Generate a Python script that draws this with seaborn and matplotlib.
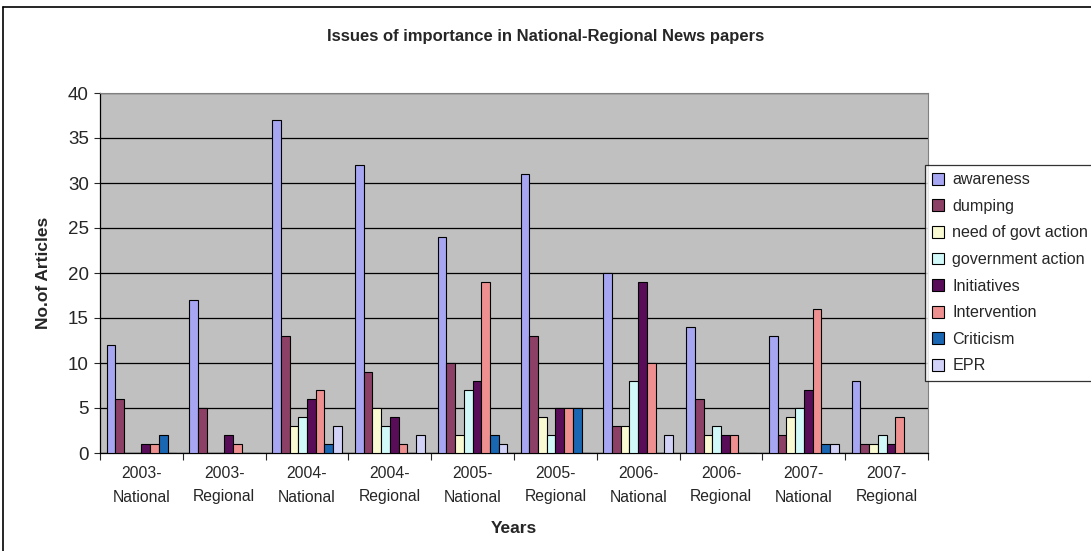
import numpy as np
import pandas as pd
import matplotlib
matplotlib.use("Agg")
import matplotlib.pyplot as plt
import seaborn as sns
from matplotlib.lines import Line2D

categories = ["2003-\nNational", "2003-\nRegional", "2004-\nNational", "2004-\nRegional",
              "2005-\nNational", "2005-\nRegional", "2006-\nNational", "2006-\nRegional",
              "2007-\nNational", "2007-\nRegional"]
series_names = ["awareness", "dumping", "need of govt action", "government action",
                "Initiatives", "Intervention", "Criticism", "EPR"]

awareness = [12, 17, 37, 32, 24, 31, 20, 14, 13, 8]
dumping = [6, 5, 13, 9, 10, 13, 3, 6, 2, 1]
need_of_govt_action = [0, 0, 3, 5, 2, 4, 3, 2, 4, 1]
government_action = [0, 0, 4, 3, 7, 2, 8, 3, 5, 2]
initiatives = [1, 2, 6, 4, 8, 5, 19, 2, 7, 1]
intervention = [1, 1, 7, 1, 19, 5, 10, 2, 16, 4]
criticism = [2, 0, 1, 0, 2, 5, 0, 0, 1, 0]
epr = [0, 0, 3, 2, 1, 0, 2, 0, 1, 0]

series_values = [awareness, dumping, need_of_govt_action, government_action,
                 initiatives, intervention, criticism, epr]
colors = ["#9999FF", "#993366", "#FFFFCC", "#CCFFFF", "#660066", "#FF8080", "#0066CC", "#CCCCFF"]

rows = []
for name, vals in zip(series_names, series_values):
    for cat, v in zip(categories, vals):
        rows.append({"Years": cat, "Issue": name, "Articles": v})
df = pd.DataFrame(rows)

sns.set_theme(style="white")
plt.rcParams["font.family"] = ["Liberation Sans", "DejaVu Sans"]

W, H = 1091, 551
fig = plt.figure(figsize=(W / 100, H / 100), dpi=100)
ax = fig.add_axes([100 / W, 1 - 453 / H, 828 / W, 360 / H])
ax.set_facecolor("#C0C0C0")

sns.barplot(data=df, x="Years", y="Articles", hue="Issue", order=categories,
            hue_order=series_names, palette=colors, width=8 / 9.5,
            edgecolor="black", linewidth=0.8, errorbar=None, ax=ax, zorder=3)

ax.set_ylim(0, 40)
ax.set_xlim(-0.5, len(categories) - 0.5)
ax.set_yticks(range(0, 41, 5))
ax.yaxis.grid(True, color="black", linewidth=0.9, zorder=1)
ax.set_axisbelow(True)
ax.tick_params(axis="y", labelsize=13.5, length=4, width=0.8, direction="out", left=True, pad=4)
ax.tick_params(axis="x", which="major", length=0, labelsize=11.3, pad=9)
ax.set_xticks(np.arange(-0.5, len(categories), 1.0), minor=True)
ax.tick_params(axis="x", which="minor", length=5, width=0.8, direction="out", bottom=True)
for lbl in ax.get_xticklabels():
    lbl.set_linespacing(1.75)

for side in ["top", "right"]:
    ax.spines[side].set_color("#808080")
    ax.spines[side].set_linewidth(0.8)
for side in ["left", "bottom"]:
    ax.spines[side].set_color("black")
    ax.spines[side].set_linewidth(0.9)

ax.set_xlabel("Years", fontsize=12.5, fontweight="bold", labelpad=12)
ax.set_ylabel("No.of Articles", fontsize=12.5, fontweight="bold", labelpad=12)
fig.text(0.5, 1 - 37 / H, "Issues of importance in National-Regional News papers",
         ha="center", va="center", fontsize=12, fontweight="bold")

leg = ax.legend(loc="upper left", bbox_to_anchor=(925 / W, 1 - 165 / H),
                bbox_transform=fig.transFigure, frameon=True, fontsize=11.6,
                handlelength=0.75, handleheight=0.75, handletextpad=0.5,
                labelspacing=0.72, borderpad=0.45, fancybox=False, borderaxespad=0)
leg.get_frame().set_edgecolor("black")
leg.get_frame().set_linewidth(0.9)
for h in leg.legend_handles:
    h.set_edgecolor("black")
    h.set_linewidth(0.8)

# outer chart border: only the left and top edges fall inside the canvas
fig.add_artist(Line2D([3 / W, 3 / W], [0, 1 - 7 / H], transform=fig.transFigure,
                      color="black", linewidth=1.2))
fig.add_artist(Line2D([3 / W, 1], [1 - 7 / H, 1 - 7 / H], transform=fig.transFigure,
                      color="black", linewidth=1.2))

fig.savefig("out.png", dpi=100)
